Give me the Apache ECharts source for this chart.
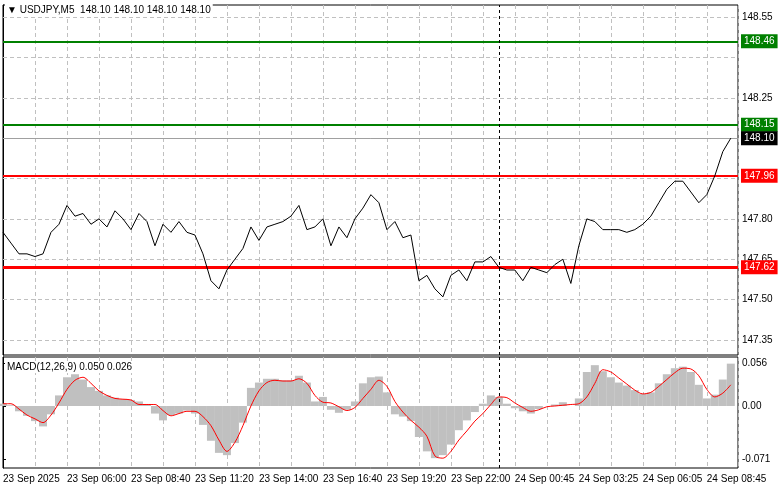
<!DOCTYPE html><html><head><meta charset="utf-8">
<script src="https://cdn.jsdelivr.net/npm/echarts@6/dist/echarts.min.js"></script>
<style>html,body{margin:0;padding:0;background:#fff}#c{width:781px;height:489px}</style></head><body><div id="c"></div>
<script>
const timeLabels=['23 Sep 2025','23 Sep 06:00','23 Sep 08:40','23 Sep 11:20','23 Sep 14:00','23 Sep 16:40','23 Sep 19:20','23 Sep 22:00','24 Sep 00:45','24 Sep 03:25','24 Sep 06:05','24 Sep 08:45'];
const price=[147.75,147.71,147.67,147.67,147.66,147.67,147.75,147.78,147.85,147.81,147.82,147.78,147.80,147.77,147.83,147.80,147.76,147.82,147.79,147.70,147.78,147.75,147.79,147.75,147.74,147.67,147.57,147.54,147.61,147.65,147.69,147.77,147.72,147.77,147.78,147.79,147.81,147.85,147.76,147.77,147.80,147.70,147.77,147.73,147.80,147.84,147.89,147.86,147.76,147.79,147.73,147.74,147.57,147.59,147.54,147.51,147.59,147.61,147.57,147.64,147.64,147.66,147.62,147.61,147.61,147.57,147.62,147.61,147.60,147.63,147.65,147.56,147.70,147.80,147.79,147.76,147.76,147.76,147.75,147.76,147.78,147.81,147.86,147.91,147.94,147.94,147.90,147.86,147.89,147.96,148.05,148.10];
const macdHist=[0.003,0.001,-0.007,-0.013,-0.020,-0.027,-0.011,0.014,0.038,0.042,0.035,0.025,0.020,0.014,0.011,0.009,0.008,0.006,0.002,-0.010,-0.019,-0.012,-0.010,-0.006,-0.010,-0.025,-0.046,-0.062,-0.065,-0.049,-0.022,0.024,0.031,0.036,0.036,0.034,0.034,0.040,0.031,0.006,0.012,-0.005,-0.009,-0.005,0.006,0.030,0.038,0.039,0.018,-0.011,-0.014,-0.020,-0.041,-0.060,-0.069,-0.065,-0.051,-0.032,-0.019,-0.008,0.003,0.014,0.012,0.003,-0.003,-0.007,-0.010,-0.004,0.000,0.002,0.005,0.000,0.010,0.045,0.054,0.046,0.038,0.031,0.027,0.021,0.016,0.018,0.030,0.042,0.050,0.052,0.045,0.028,0.010,0.015,0.035,0.056];
const macdSignal=[0.003,0.003,-0.004,-0.012,-0.017,-0.022,-0.012,0.004,0.022,0.034,0.038,0.030,0.020,0.014,0.010,0.009,0.008,0.002,0.002,0.002,-0.006,-0.013,-0.010,-0.007,-0.007,-0.014,-0.026,-0.045,-0.060,-0.048,-0.026,0.000,0.020,0.031,0.034,0.033,0.033,0.036,0.030,0.014,0.005,0.004,-0.001,-0.006,-0.002,0.010,0.022,0.034,0.026,0.006,-0.008,-0.019,-0.028,-0.040,-0.066,-0.069,-0.060,-0.045,-0.033,-0.020,-0.010,0.002,0.012,0.011,0.004,-0.002,-0.007,-0.005,-0.001,0.000,0.001,0.002,0.003,0.012,0.030,0.048,0.045,0.037,0.029,0.021,0.016,0.018,0.026,0.035,0.044,0.050,0.049,0.040,0.022,0.012,0.017,0.028];
const priceTicks=[148.55,148.25,147.80,147.65,147.50,147.35];
const gridLevels=[148.55,148.40,148.25,148.10,147.95,147.80,147.65,147.50,147.35];
const macdTicks=[0.056,0,-0.071];
const levels=[{v:148.46,c:'#008000',w:2},{v:148.15,c:'#008000',w:2},{v:147.96,c:'#ff0000',w:2},{v:147.62,c:'#ff0000',w:3}];
const current=148.10;
const crossIdx=62.1;

const F='Liberation Sans';
const chart=echarts.init(document.getElementById('c'));
const xCommon=(gi,showLabels)=>({type:'value',gridIndex:gi,min:0,max:91.9,interval:4,
 axisLine:{show:false},axisTick:{show:false},
 splitLine:{show:true,lineStyle:{type:[4,3],color:'#c0c0c0'}},
 axisLabel:{show:showLabels,customValues:timeLabels.map((_,i)=>i*8),formatter:v=>timeLabels[Math.round(v/8)]||'',align:'left',color:'#000',fontFamily:F,fontSize:10,margin:6}});
const lvlLines=levels.map(l=>({yAxis:l.v,lineStyle:{color:l.c,width:l.w,type:'solid'},label:{show:true,position:'end',formatter:l.v.toFixed(2),backgroundColor:l.c,color:'#fff',padding:[2,3],fontFamily:F,fontSize:10,distance:3}}));
lvlLines.push({yAxis:current,lineStyle:{color:'#a0a0a0',width:1,type:'solid'},label:{show:true,position:'end',formatter:current.toFixed(2),backgroundColor:'#000',color:'#fff',padding:[2,3],fontFamily:F,fontSize:10,distance:3}});
chart.setOption({animation:false,
 grid:[{left:3,right:43,top:5,height:350,show:true,borderColor:'#000',borderWidth:1},
       {left:3,right:43,top:357,height:111,show:true,borderColor:'#000',borderWidth:1}],
 xAxis:[xCommon(0,false),xCommon(1,true)],
 yAxis:[{type:'value',gridIndex:0,position:'right',min:147.294,max:148.595,splitLine:{show:false},
   axisLine:{show:true,lineStyle:{color:'#000'}},axisTick:{show:true,customValues:priceTicks,length:3,lineStyle:{color:'#000'}},
   axisLabel:{customValues:priceTicks,formatter:v=>v.toFixed(2),color:'#000',fontFamily:F,fontSize:10,margin:4}},
  {type:'value',gridIndex:1,position:'right',min:-0.082,max:0.0648,splitLine:{show:false},
   axisLine:{show:true,lineStyle:{color:'#000'}},axisTick:{show:true,customValues:macdTicks,length:3,lineStyle:{color:'#000'}},
   axisLabel:{customValues:macdTicks,formatter:v=>v.toFixed(v===0?2:3),color:'#000',fontFamily:F,fontSize:10,margin:4}}],
 series:[
  {type:'line',name:'grid',xAxisIndex:0,yAxisIndex:0,data:[],silent:true,
   markLine:{symbol:'none',silent:true,label:{show:false},lineStyle:{type:[4,3],color:'#c0c0c0',width:1},data:gridLevels.map(v=>({yAxis:v}))}},
  {type:'line',xAxisIndex:0,yAxisIndex:0,data:price.map((v,i)=>[i,v]),symbol:'none',lineStyle:{color:'#000',width:1},z:5,
   markLine:{symbol:'none',silent:true,data:lvlLines.concat([{xAxis:crossIdx,lineStyle:{color:'#000',type:[3,3],width:1},label:{show:false}}])}},
  {type:'bar',xAxisIndex:1,yAxisIndex:1,data:macdHist.map((v,i)=>[i,v]),barWidth:8,itemStyle:{color:'#c0c0c0'},
   markLine:{symbol:'none',silent:true,data:[{xAxis:crossIdx,lineStyle:{color:'#000',type:[3,3],width:1},label:{show:false}}]}},
  {type:'line',xAxisIndex:1,yAxisIndex:1,data:macdSignal.map((v,i)=>[i,v]),symbol:'none',smooth:0.3,lineStyle:{color:'#ff0000',width:1},z:5}
 ],
 graphic:[
  {type:'text',left:5,top:4,z:100,style:{text:'\u25BC USDJPY,M5  148.10 148.10 148.10 148.10',fill:'#000',font:'10px '+F,backgroundColor:'#fff',padding:[1,2]}},
  {type:'text',left:5,top:361,z:100,style:{text:'MACD(12,26,9) 0.050 0.026',fill:'#000',font:'10px '+F,backgroundColor:'#fff',padding:[1,2]}}
 ]});
</script></body></html>
